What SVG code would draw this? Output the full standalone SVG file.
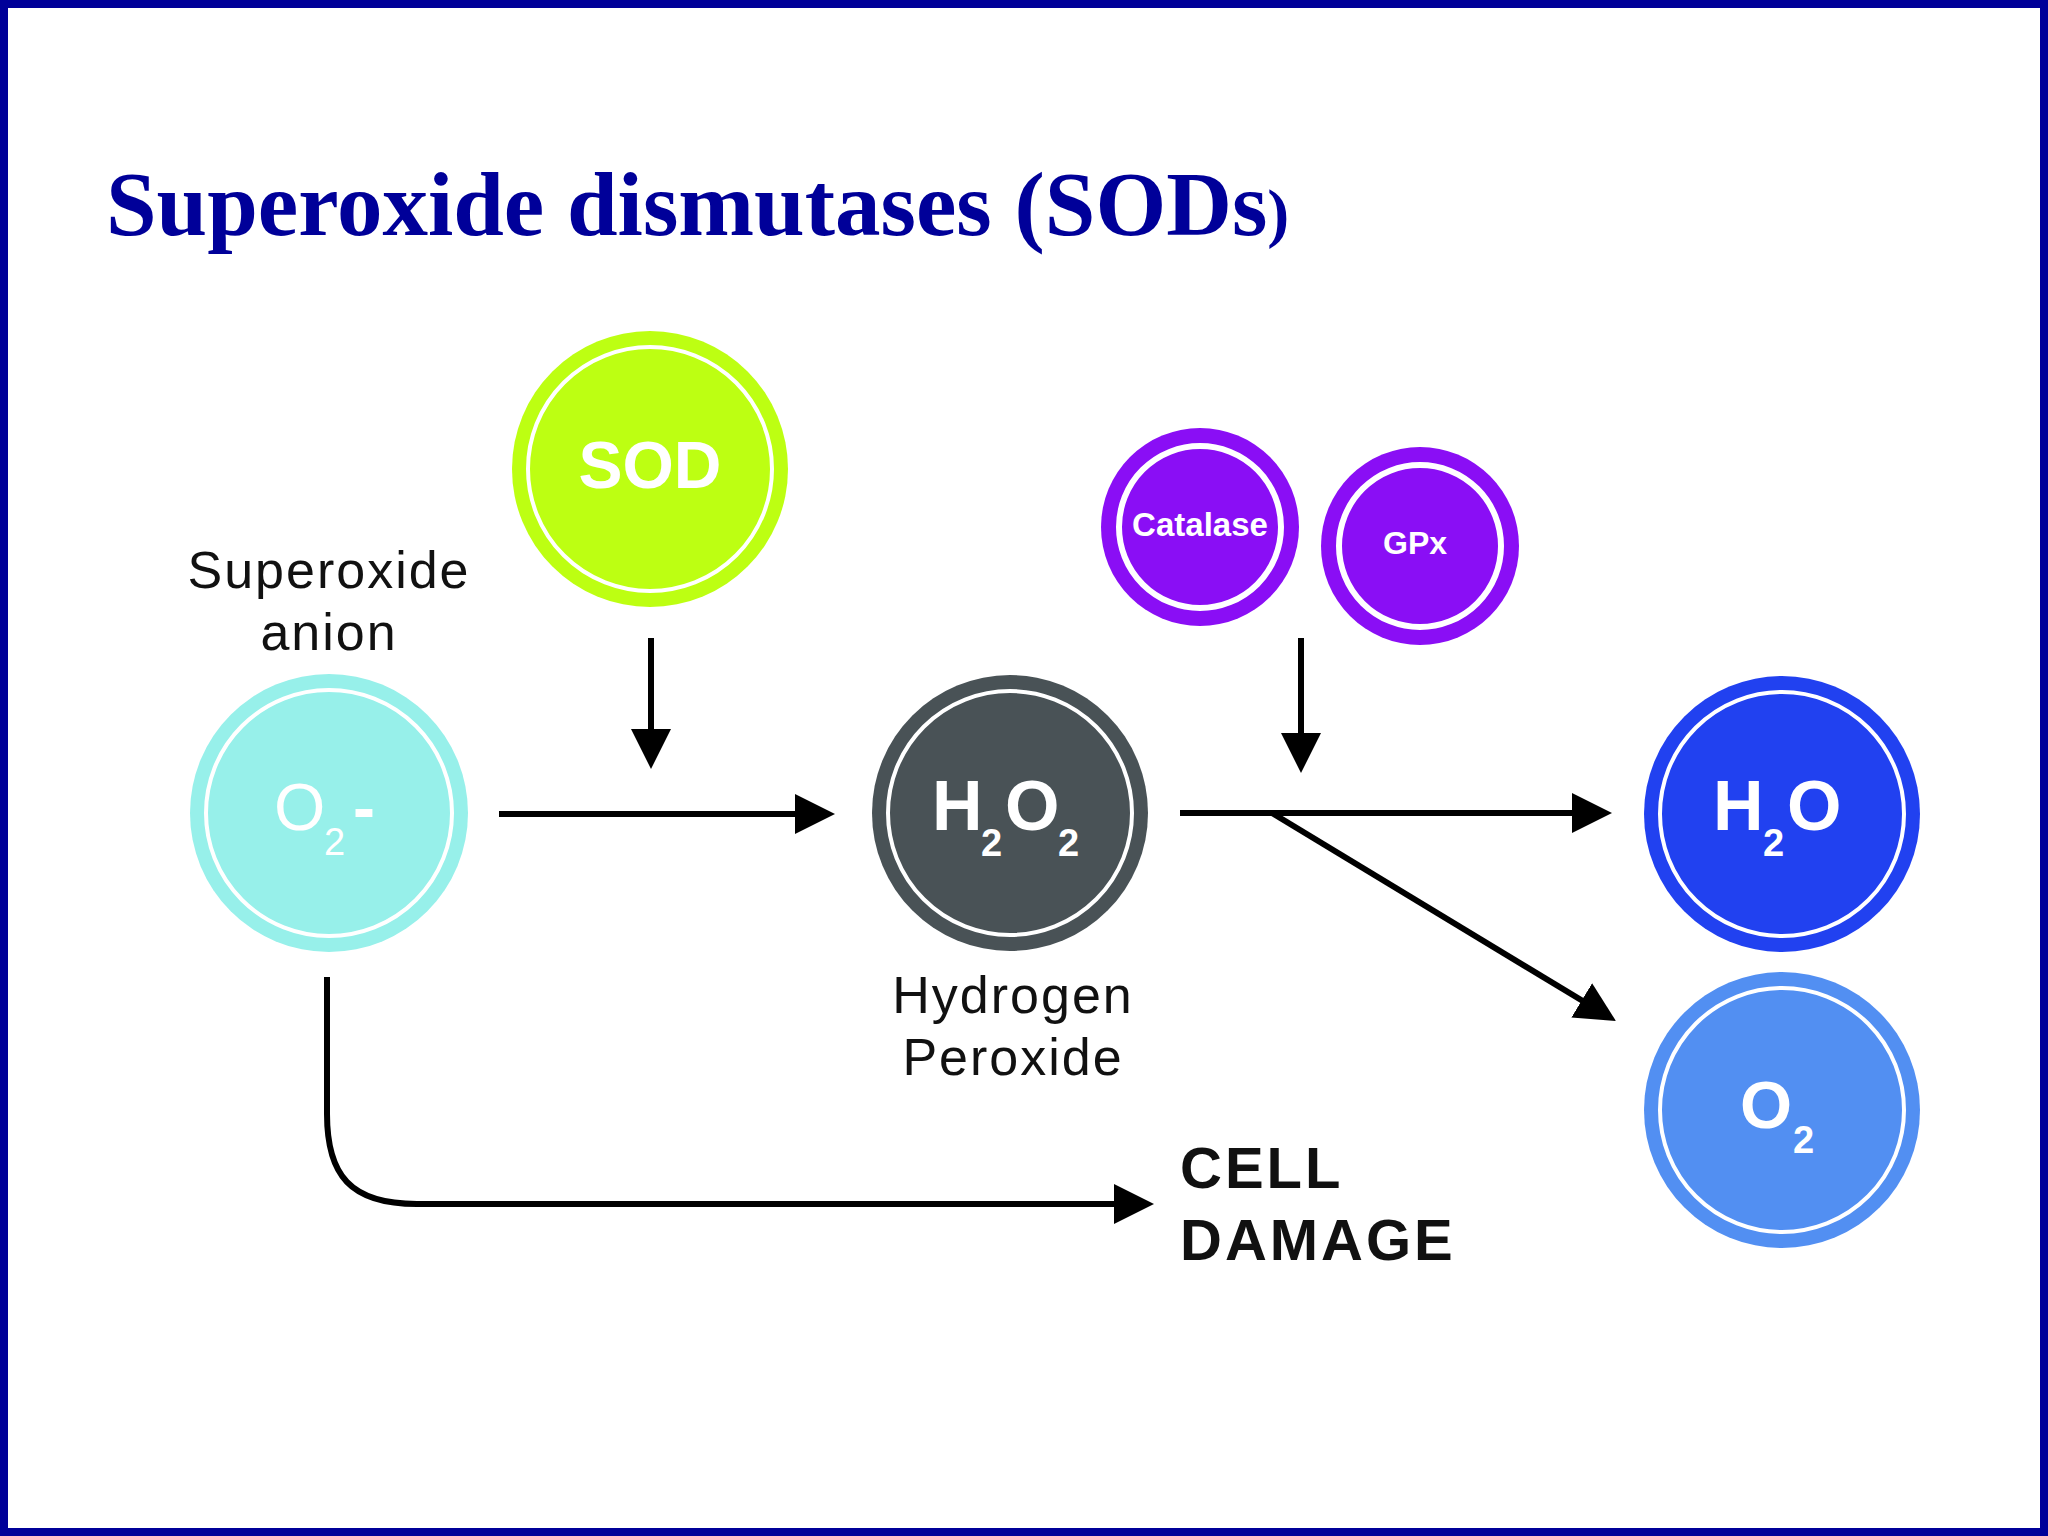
<svg xmlns="http://www.w3.org/2000/svg" width="2048" height="1536" viewBox="0 0 2048 1536">
  <defs>
    <style>
      .title { font-family: "Liberation Serif", "Times New Roman", serif; font-weight: bold; fill: #000099; }
      .lbl { font-family: "Liberation Sans", Arial, sans-serif; font-size: 52px; letter-spacing: 2px; fill: #111111; text-anchor: middle; }
      .big { font-family: "Liberation Sans", Arial, sans-serif; fill: #111111; font-weight: bold; font-size: 58px; letter-spacing: 3px; }
      .in { font-family: "Liberation Sans", Arial, sans-serif; fill: #ffffff; }
      .b { font-weight: bold; }
      .ring { fill: none; stroke: #ffffff; stroke-width: 4; }
      .ringp { fill: none; stroke: #ffffff; stroke-width: 6; }
      .conn { fill: none; stroke: #000000; stroke-width: 6; }
    </style>
    <marker id="ah" markerUnits="userSpaceOnUse" markerWidth="42" markerHeight="42" refX="8" refY="20" orient="auto">
      <path d="M0,0 L40,20 L0,40 Z" fill="#000000"/>
    </marker>
  </defs>

  <rect x="0" y="0" width="2048" height="1536" fill="#ffffff"/>
  <rect x="4" y="4" width="2040" height="1528" fill="none" stroke="#000099" stroke-width="8"/>

  <text class="title" x="106" y="235" font-size="91">Superoxide dismutases (SODs<tspan font-size="66">)</tspan></text>

  <g id="node-sod">
    <circle cx="650" cy="469" r="138" fill="#bdff12"/>
    <circle class="ring" cx="650" cy="469" r="122"/>
    <text class="in b" x="650" y="488" font-size="66" text-anchor="middle">SOD</text>
  </g>

  <g id="node-superoxide">
    <text class="lbl" x="329" y="588">Superoxide</text>
    <text class="lbl" x="329" y="650">anion</text>
    <circle cx="329" cy="813" r="139" fill="#97f0ea"/>
    <circle class="ring" cx="329" cy="813" r="123"/>
    <text class="in" font-size="66"><tspan x="274" y="830">O</tspan><tspan x="324" y="855" font-size="38">2</tspan><tspan x="353" y="830" font-weight="bold">-</tspan></text>
  </g>

  <g id="node-h2o2">
    <circle cx="1010" cy="813" r="138" fill="#495256"/>
    <circle class="ring" cx="1010" cy="813" r="122"/>
    <text class="in b" font-size="70"><tspan x="932" y="830">H</tspan><tspan x="981" y="856" font-size="38">2</tspan><tspan x="1005" y="830">O</tspan><tspan x="1058" y="856" font-size="38">2</tspan></text>
    <text class="lbl" x="1013" y="1013">Hydrogen</text>
    <text class="lbl" x="1013" y="1075">Peroxide</text>
  </g>

  <g id="node-catalase">
    <circle cx="1200" cy="527" r="99" fill="#8a0ef5"/>
    <circle class="ringp" cx="1200" cy="527" r="81"/>
    <text class="in b" x="1200" y="536" font-size="33" text-anchor="middle">Catalase</text>
  </g>

  <g id="node-gpx">
    <circle cx="1420" cy="546" r="99" fill="#8a0ef5"/>
    <circle class="ringp" cx="1420" cy="546" r="81"/>
    <text class="in b" x="1415" y="554" font-size="32" text-anchor="middle">GPx</text>
  </g>

  <g id="node-h2o">
    <circle cx="1782" cy="814" r="138" fill="#2141f0"/>
    <circle class="ring" cx="1782" cy="814" r="122"/>
    <text class="in b" font-size="70"><tspan x="1713" y="830">H</tspan><tspan x="1763" y="856" font-size="38">2</tspan><tspan x="1787" y="830">O</tspan></text>
  </g>

  <g id="node-o2">
    <circle cx="1782" cy="1110" r="138" fill="#528ff2"/>
    <circle class="ring" cx="1782" cy="1110" r="122"/>
    <text class="in b" font-size="67"><tspan x="1740" y="1128">O</tspan><tspan x="1793" y="1153" font-size="38">2</tspan></text>
  </g>

  <g id="node-cell-damage">
    <text class="big" x="1180" y="1188">CELL</text>
    <text class="big" x="1180" y="1260">DAMAGE</text>
  </g>

  <g id="connectors">
    <line class="conn" x1="499" y1="814" x2="803" y2="814" marker-end="url(#ah)"/>
    <line class="conn" x1="651" y1="638" x2="651" y2="737" marker-end="url(#ah)"/>
    <line class="conn" x1="1301" y1="638" x2="1301" y2="741" marker-end="url(#ah)"/>
    <line class="conn" x1="1180" y1="813" x2="1580" y2="813" marker-end="url(#ah)"/>
    <line class="conn" x1="1272" y1="813" x2="1588.6" y2="1004.5" marker-end="url(#ah)"/>
    <path class="conn" d="M327,977 L327,1114 C327,1175 350,1204 417,1204 L1122,1204" marker-end="url(#ah)"/>
  </g>
</svg>
